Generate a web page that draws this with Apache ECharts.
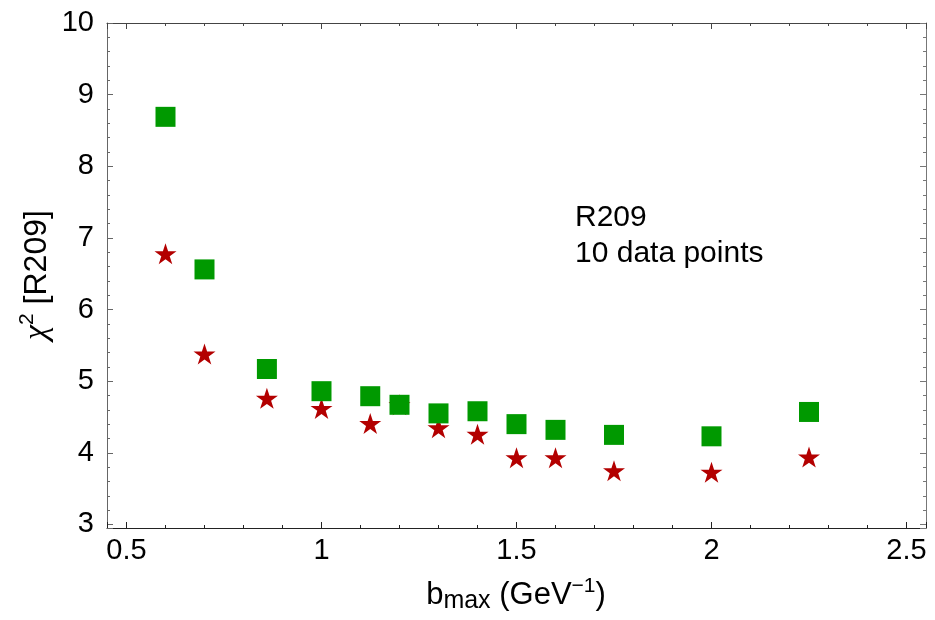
<!DOCTYPE html>
<html>
<head>
<meta charset="utf-8">
<script src="https://cdn.jsdelivr.net/npm/echarts@6/dist/echarts.min.js"></script>
<style>
html,body{margin:0;padding:0;background:#fff;}
#main{width:935px;height:620px;}
</style>
</head>
<body>
<div id="main"></div>
<script>
// b_max values (GeV^-1)
const bmax = [0.6, 0.7, 0.86, 1.0, 1.125, 1.2, 1.3, 1.4, 1.5, 1.6, 1.75, 2.0, 2.25];
// chi^2 values, green squares
const chi2Squares = [8.69, 6.56, 5.17, 4.86, 4.79, 4.67, 4.55, 4.58, 4.40, 4.32, 4.25, 4.23, 4.57];
// chi^2 values, red stars
const chi2Stars = [6.78, 5.38, 4.76, 4.62, 4.41, 4.67, 4.35, 4.26, 3.93, 3.93, 3.75, 3.73, 3.94];
const xTickLabels = ['0.5', '1', '1.5', '2', '2.5'];
const yTickLabels = ['3', '4', '5', '6', '7', '8', '9', '10'];
const annotationLines = ['R209', '10 data points'];

const FONT = 'Liberation Sans, Arial, Helvetica, sans-serif';
const SERIF = 'Liberation Serif, Times New Roman, serif';
const starPath = 'path://M50 0 L61.23 34.55 L97.55 34.55 L68.17 55.9 L79.39 90.45 L50 69.1 L20.61 90.45 L31.83 55.9 L2.45 34.55 L38.77 34.55 Z';

const chart = echarts.init(document.getElementById('main'), null, {renderer: 'canvas'});

function pair(xs, ys) { return xs.map((x, i) => [x, ys[i]]); }

function fmtX(v) {
  const s = String(Math.round(v * 100) / 100);
  return xTickLabels.indexOf(s) >= 0 ? s : '';
}
function fmtY(v) {
  const s = String(Math.round(v * 100) / 100);
  return yTickLabels.indexOf(s) >= 0 ? s : '';
}

function xAx(pos, color, labels) {
  return {
    type: 'value', position: pos, min: 0.45, max: 2.55,
    axisLine: {show: true, onZero: false, lineStyle: {color: color, width: 1}},
    axisTick: {show: true, inside: true, length: 6, lineStyle: {color: color}},
    minorTick: {show: true, splitNumber: 5, length: 3, lineStyle: {color: color}},
    splitLine: {show: false},
    axisLabel: {show: labels, fontSize: 29, color: '#000', fontFamily: FONT, margin: 8,
      showMinLabel: false, showMaxLabel: false, formatter: fmtX}
  };
}
function yAx(pos, color, labels) {
  return {
    type: 'value', position: pos, min: 2.95, max: 10,
    axisLine: {show: true, onZero: false, lineStyle: {color: color, width: 1}},
    axisTick: {show: true, inside: true, length: 6, lineStyle: {color: color}},
    minorTick: {show: true, splitNumber: 5, length: 3, lineStyle: {color: color}},
    splitLine: {show: false},
    axisLabel: {show: labels, fontSize: 29, color: '#000', fontFamily: FONT, margin: 13,
      showMinLabel: false, formatter: fmtY}
  };
}

const option = {
  backgroundColor: '#fff',
  animation: false,
  grid: {left: 107, top: 23, right: 9, bottom: 92, containLabel: false},
  xAxis: [xAx('bottom', '#222', true), xAx('top', '#444', false)],
  yAxis: [yAx('left', '#666', true), yAx('right', '#777', false)],
  series: [
    {
      type: 'scatter', xAxisIndex: 0, yAxisIndex: 0,
      data: pair(bmax, chi2Stars),
      symbol: starPath, symbolSize: [22, 21],
      itemStyle: {color: '#b30000', opacity: 1}, z: 2
    },
    {
      type: 'scatter', xAxisIndex: 0, yAxisIndex: 0,
      data: pair(bmax, chi2Squares),
      symbol: 'rect', symbolSize: 20,
      itemStyle: {color: '#009900', opacity: 1}, z: 3
    }
  ],
  graphic: [
    {
      type: 'text', x: 575, y: 200,
      style: {text: annotationLines.join('\n'), font: '30px ' + FONT, fill: '#000',
        lineHeight: 36, align: 'left', verticalAlign: 'top'}
    },
    {
      // x-axis title: b_max (GeV^-1)
      type: 'text', x: 516, y: 595.5,
      style: {
        text: '{a|b}{s|max}{a| (GeV}{p|\u22121}{a|)}',
        align: 'center', verticalAlign: 'middle', fill: '#000',
        rich: {
          a: {fontSize: 31, fontFamily: FONT, fill: '#000', lineHeight: 36, verticalAlign: 'middle'},
          s: {fontSize: 25, fontFamily: FONT, fill: '#000', lineHeight: 36, verticalAlign: 'middle', padding: [12, 0, 0, 0]},
          p: {fontSize: 21, fontFamily: FONT, fill: '#000', lineHeight: 36, verticalAlign: 'middle', padding: [0, 0, 19, 0]}
        }
      }
    },
    {
      // y-axis title: chi^2 [R209]
      type: 'text', x: 37.5, y: 275, rotation: Math.PI / 2,
      style: {
        text: '{i|\u03C7}{p|2}{a| [R209]}',
        align: 'center', verticalAlign: 'middle', fill: '#000',
        rich: {
          i: {fontSize: 34, fontStyle: 'italic', fontFamily: SERIF, fill: '#000', lineHeight: 36, verticalAlign: 'middle'},
          a: {fontSize: 32, fontFamily: FONT, fill: '#000', lineHeight: 36, verticalAlign: 'middle'},
          p: {fontSize: 21, fontFamily: FONT, fill: '#000', lineHeight: 36, verticalAlign: 'middle', padding: [0, 0, 20, 0]}
        }
      }
    }
  ]
};
chart.setOption(option);
</script>
</body>
</html>
